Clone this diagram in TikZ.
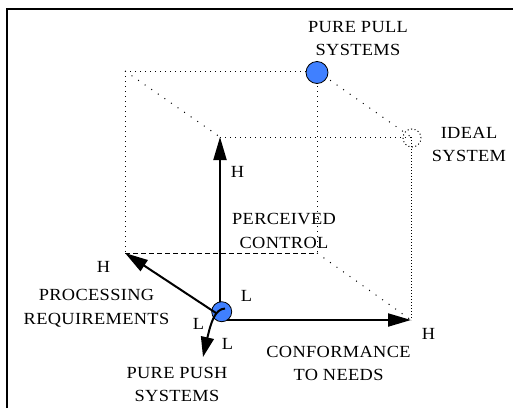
\documentclass[tikz,border=0pt]{standalone}
\usepackage{fontspec}
\setmainfont{Liberation Serif}[LetterSpace=2, FakeStretch=1.08]
\usetikzlibrary{arrows.meta}
\definecolor{ballblue}{RGB}{64,128,255}
\begin{document}
\begin{tikzpicture}[x=1pt,y=-1pt,
  lab/.style={inner sep=0pt, font=\fontsize{17}{23.5}\selectfont, align=center},
  axis/.style={line width=2pt, -{Triangle[length=23pt,width=13pt]}},
  dots/.style={line width=1pt, dash pattern=on 1pt off 4pt},
  densedots/.style={line width=1pt, dash pattern=on 1pt off 2pt},
  sparse/.style={line width=1pt, dash pattern=on 1pt off 7pt},
  dashline/.style={line width=1pt, dash pattern=on 5pt off 3pt},
  ball/.style={circle, draw=black, line width=0.8pt, fill=ballblue, inner sep=0pt}]
\useasboundingbox (0,0) rectangle (513,408);
\draw[line width=2pt] (7,408) -- (7,9) -- (513,9);
% cube corners
\coordinate (O) at (220,320);
\coordinate (X) at (411,320);
\coordinate (Z) at (220,137);
\coordinate (Y) at (125,253);
\coordinate (BR) at (317,253);
\coordinate (BTL) at (125,71);
\coordinate (BTR) at (317,71);
\coordinate (FTR) at (411,137);
\coordinate (P0) at (216,313);
\coordinate (C0) at (225,308.5);
\coordinate (PT) at (203,357);
% hidden edges
\draw[dots] (BTL) -- (BTR);
\draw[dots] (BTL) -- (Y);
\draw[dots] (BTR) -- (BR);
\draw[dots] (Z) -- (FTR);
\draw[densedots] (FTR) -- (X);
\draw[sparse] (BTL) -- (Z);
\draw[sparse] (BTR) -- (FTR);
\draw[sparse] (BR) -- (X);
\draw[dashline] (Y) -- (BR);
% axes
\draw[axis] (O) -- (X);
\draw[axis] (O) -- (Z);
\node[ball, minimum size=20pt] (push) at (221.7,311.7) {};
\draw[axis] (P0) -- (Y);
\draw[line width=2pt, -{Triangle[length=20pt,width=13pt]}] (C0) .. controls (215,309) and (211,322) .. (PT);
\node[ball, minimum size=22pt] (pull) at (317,72.5) {};
\node[circle, draw, line width=1pt, dash pattern=on 1pt off 2.5pt, minimum size=18pt, inner sep=0pt] (ideal) at (412,138) {};
% labels
\node[lab, anchor=north] (tpull) at (358,21) {PURE PULL\\SYSTEMS};
\node[lab, anchor=north] (tideal) at (469,127) {IDEAL\\SYSTEM};
\node[lab] (hz) at (237.5,172) {H};
\node[lab, anchor=north] (tperc) at (284,213.5) {PERCEIVED\\CONTROL};
\node[lab] (hy) at (103.5,267) {H};
\node[lab, anchor=north] (tproc) at (96.5,289.5) {PROCESSING\\REQUIREMENTS};
\node[lab] (lz) at (246.5,296) {L};
\node[lab] (ly) at (198.5,324) {L};
\node[lab] (lx) at (227.5,344) {L};
\node[lab] (hx) at (428.5,334) {H};
\node[lab, anchor=north] (tconf) at (338.5,346) {CONFORMANCE\\TO NEEDS};
\node[lab, anchor=north] (tpush) at (177,367) {PURE PUSH\\SYSTEMS};
\end{tikzpicture}
\end{document}
